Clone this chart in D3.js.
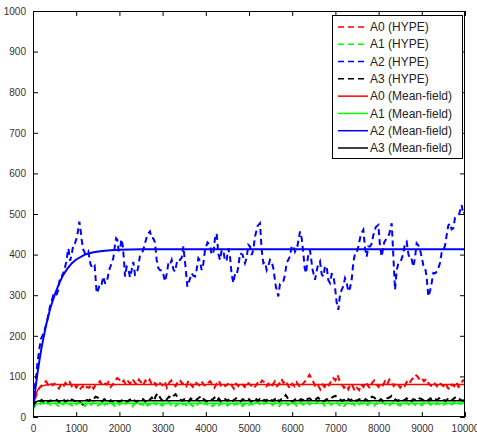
<!DOCTYPE html>
<html><head><meta charset="utf-8">
<script src="https://cdn.jsdelivr.net/npm/d3@7"></script>
<style>body{margin:0;background:#fff}svg{display:block}text{font-family:"Liberation Sans",Arial,sans-serif}</style>
</head><body><svg id="c" width="477" height="434"></svg>
<script>
// ---- data ----
const xTicks = [0,1000,2000,3000,4000,5000,6000,7000,8000,9000,10000];
const yTicks = [0,100,200,300,400,500,600,700,800,900,1000];
const seriesNames = ["A0 (HYPE)","A1 (HYPE)","A2 (HYPE)","A3 (HYPE)","A0 (Mean-field)","A1 (Mean-field)","A2 (Mean-field)","A3 (Mean-field)"];
const colors = ["#ff0000","#00ff00","#0000ff","#000000"];
// HYPE samples every 50 time units (0..10000)
const a0Hype = [20,45,62,72,78,84,88,80,86,78, 82,76,70,80,74,84,79,86,76,82, 73,80,70,76,68,74,72,80,70,78, 82,88,78,84,80,86,74,80,90,96,
 92,84,90,80,88,82,94,86,80,92, 86,78,90,84,92,80,86,78,88,82, 78,88,72,84,90,80,76,86,92,82, 84,76,90,80,74,86,82,78,88,80,
 76,84,88,80,72,82,90,78,84,76, 80,86,78,70,82,76,84,80,74,86, 82,78,70,76,84,80,90,86,76,82, 72,80,88,76,82,94,84,90,78,70,
 82,76,86,78,72,82,88,96,104,94, 84,72,78,68,80,74,84,78,88,96, 90,104,88,80,72,78,68,82,76,64, 72,66,80,74,86,78,70,84,90,80,
 74,84,78,88,80,92,86,76,84,80, 72,80,76,86,80,90,96,104,100,92, 96,88,94,84,78,74,82,76,86,80, 76,84,72,68,80,76,86,74,80,90, 92];
const a1Hype = [20,28,34,30,36,32,28,35,30,33, 36,30,27,34,31,37,29,33,28,35, 31,36,29,33,27,32,35,30,37,31, 28,33,25,30,34,29,36,31,27,34,
 30,35,28,33,37,30,26,32,35,29, 33,30,36,28,32,27,34,31,37,30, 28,34,30,36,29,33,27,32,35,30, 33,29,36,31,27,34,30,36,32,28,
 35,30,33,27,31,36,29,34,30,33, 28,32,36,30,34,29,33,27,31,35, 30,34,28,33,37,31,27,32,36,30, 33,29,35,30,27,34,31,36,29,33,
 30,35,28,32,36,30,33,38,31,34, 29,33,40,31,35,28,32,36,30,34, 31,35,29,33,27,32,36,30,34,28, 26,31,35,30,33,29,36,32,28,34,
 30,33,36,31,35,29,33,37,32,30, 28,33,30,35,31,27,34,30,36,32, 29,34,31,36,30,33,28,35,31,34, 30,35,29,33,31,36,30,34,32,35, 33];
const a3Hype = [25,35,40,38,42,36,40,37,41,39, 38,42,36,40,44,38,41,37,43,40, 39,43,36,31,38,42,40,46,44,50, 48,42,38,44,40,36,41,38,42,39,
 37,41,39,36,40,43,38,41,37,42, 40,44,38,46,42,48,40,54,58,46, 40,38,44,50,46,52,56,48,44,40, 44,40,38,46,42,40,44,48,52,44,
 40,38,44,42,48,40,46,38,42,44, 40,44,38,42,46,40,38,44,42,40, 44,38,42,46,40,44,38,42,40,46, 42,40,44,48,38,44,46,54,46,40,
 38,42,46,40,44,42,38,44,46,42, 40,44,48,42,38,40,44,42,46,50, 52,48,44,40,42,38,44,40,46,42, 40,44,42,38,44,40,46,50,48,42,
 38,44,40,42,46,48,52,46,42,40, 44,40,42,46,40,38,44,42,40,46, 44,40,38,42,46,40,44,42,46,48, 42,40,44,38,42,46,50,46,42,40, 42];
// A2 HYPE read at irregular times
const a2HypeT = [0,25,50,75,100,125,150,183,216,266,316,393,470,528,586,625,664,722,780,800,820,858,895,934,972,1022,1073,1100,1127,1165,1204,1243,1281,1331,1381,1428,1474,1512,1551,1590,1628,1667,1705,1763,1821,1860,1898,1925,1952,1983,2014,2045,2076,2103,2130,2168,2207,2245,2284,2322,2361,2400,2438,2476,2515,2554,2593,2650,2708,2746,2785,2824,2863,2900,2940,2998,3056,3095,3133,3171,3210,3248,3287,3345,3403,3441,3480,3526,3573,3623,3673,3711,3750,3789,3827,3865,3904,3942,3981,4039,4097,4135,4174,4213,4252,4290,4329,4367,4406,4444,4483,4521,4560,4598,4637,4676,4715,4753,4792,4850,4907,4946,4985,5023,5062,5100,5139,5197,5255,5293,5332,5370,5409,5447,5486,5525,5564,5620,5679,5717,5756,5794,5833,5871,5910,5949,5988,6026,6065,6123,6181,6220,6258,6289,6320,6366,6412,6470,6528,6586,6644,6682,6721,6760,6798,6836,6875,6913,6952,6990,7029,7068,7106,7145,7183,7222,7260,7299,7337,7376,7415,7454,7492,7531,7590,7647,7685,7724,7762,7801,7840,7878,7936,7994,8032,8071,8129,8187,8245,8303,8340,8380,8418,8457,8515,8573,8611,8650,8688,8727,8765,8804,8842,8881,8939,8997,9035,9074,9112,9151,9190,9228,9267,9306,9363,9421,9460,9499,9537,9576,9614,9653,9691,9730,9768,9807,9865,9923,9960,10000];
const a2HypeV = [20,55,80,100,130,150,170,192,200,214,231,272,300,297,313,345,346,360,387,405,415,385,399,426,428,445,481,462,436,412,403,400,407,376,366,372,305,314,330,328,346,330,330,362,379,392,424,440,436,410,411,438,424,390,346,370,366,344,362,382,350,352,370,398,403,412,428,450,457,440,440,430,387,367,362,360,334,352,379,375,387,364,358,388,387,392,420,375,321,337,354,348,346,364,391,385,362,377,411,430,424,400,403,440,452,402,387,410,411,384,387,415,395,352,330,352,350,370,403,400,379,392,424,420,399,412,444,470,477,412,379,382,362,372,387,382,366,322,297,328,330,334,350,380,387,396,420,422,407,422,457,440,403,367,354,395,411,364,338,370,383,352,346,372,370,337,330,352,350,321,282,264,300,313,322,342,332,309,317,338,380,403,404,420,450,461,417,395,420,420,427,448,468,473,422,395,430,440,450,477,400,313,360,379,384,403,428,432,402,387,388,370,392,428,420,395,374,370,345,297,310,330,355,354,360,379,405,411,422,448,472,477,462,465,490,493,500,522,500,506];
// Mean-field solutions
const mfT = [0,50,100,150,200,300,400,500,600,700,800,900,1000,1200,1400,1600,1800,2000,2500,10000];
const a0Mf = [20,50,65,72,76,79,80,80,80,80,80,80,80,80,80,80,80,80,80,80];
const a1Mf = [20,30,33,34,34,34,34,34,34,34,34,34,34,34,34,34,34,34,34,34];
const a2Mf = [20,65,105,140,172,225,268,300,328,350,366,379,388,400,406,409,411,412,413,413];
const a3Mf = [25,36,39,40,40,40,40,40,40,40,40,40,40,40,40,40,40,40,40,40];

// ---- chart ----
const svg = d3.select("#c");
const L = 33, R = 465, T = 11, B = 417;
const x = d3.scaleLinear().domain([0,10000]).range([L,R]);
const y = d3.scaleLinear().domain([0,1000]).range([B,T]);
const tGrid = d3.range(0, 10001, 50);

svg.append("defs").append("clipPath").attr("id","clip")
  .append("rect").attr("x",L).attr("y",T).attr("width",R-L).attr("height",B-T);

const line = d3.line().x(d=>x(d[0])).y(d=>y(d[1]));
const g = svg.append("g").attr("clip-path","url(#clip)");

const hype = [
  {c:colors[0], pts: tGrid.map((t,i)=>[t,a0Hype[i]])},
  {c:colors[1], pts: tGrid.map((t,i)=>[t,a1Hype[i]])},
  {c:colors[2], pts: a2HypeT.map((t,i)=>[t,a2HypeV[i]])},
  {c:colors[3], pts: tGrid.map((t,i)=>[t,a3Hype[i]])}
];
const mf = [a0Mf,a1Mf,a2Mf,a3Mf].map((v,k)=>({c:colors[k], pts: mfT.map((t,i)=>[t,v[i]])}));

hype.forEach(s=>g.append("path").attr("d",line(s.pts)).attr("fill","none")
  .attr("stroke",s.c).attr("stroke-width",2).attr("stroke-dasharray","6,4"));
mf.forEach(s=>g.append("path").attr("d",line(s.pts)).attr("fill","none")
  .attr("stroke",s.c).attr("stroke-width",s.c==="#0000ff"?2:1.5));

// axes box
const ax = svg.append("g");
ax.append("rect").attr("x",L+0.5).attr("y",T+0.5).attr("width",R-L-1).attr("height",B-T-1)
  .attr("fill","none").attr("stroke","#000").attr("stroke-width",1);

const tl = 5;
const xAxB = d3.axisBottom(x).tickValues(xTicks).tickSizeInner(-tl).tickSizeOuter(0).tickPadding(8).tickFormat(d3.format("d"));
const xAxT = d3.axisTop(x).tickValues(xTicks).tickSizeInner(-tl).tickSizeOuter(0).tickFormat("");
const yAxL = d3.axisLeft(y).tickValues(yTicks).tickSizeInner(-tl).tickSizeOuter(0).tickPadding(7).tickFormat(d3.format("d"));
const yAxR = d3.axisRight(y).tickValues(yTicks).tickSizeInner(-tl).tickSizeOuter(0).tickFormat("");

function style(sel){
  sel.select(".domain").remove();
  sel.selectAll("line").attr("stroke","#000");
  sel.selectAll("text").attr("fill","#333").style("font-size","10px").style("font-family",'"Liberation Sans",Arial,sans-serif');
}
ax.append("g").attr("transform",`translate(0,${B})`).call(xAxB).call(style);
ax.append("g").attr("transform",`translate(0,${T})`).call(xAxT).call(style);
ax.append("g").attr("transform",`translate(${L},0)`).call(yAxL).call(style);
ax.append("g").attr("transform",`translate(${R},0)`).call(yAxR).call(style);

// legend
const lg = svg.append("g");
lg.append("rect").attr("x",332.5).attr("y",15.5).attr("width",130).attr("height",143)
  .attr("fill","#fff").attr("stroke","#000").attr("stroke-width",1);
const rowY = d3.scalePoint().domain(seriesNames).range([27,148]);
seriesNames.forEach((n,i)=>{
  const yy = rowY(n);
  const c = colors[i%4];
  lg.append("line").attr("x1",338).attr("x2",368).attr("y1",yy).attr("y2",yy)
    .attr("stroke",c).attr("stroke-width",1.5).attr("stroke-dasharray",i<4?"6,4":null);
  lg.append("text").attr("x",370).attr("y",yy).attr("dy","0.35em")
    .style("font-size","12px").attr("fill","#222").text(n);
});
</script></body></html>
